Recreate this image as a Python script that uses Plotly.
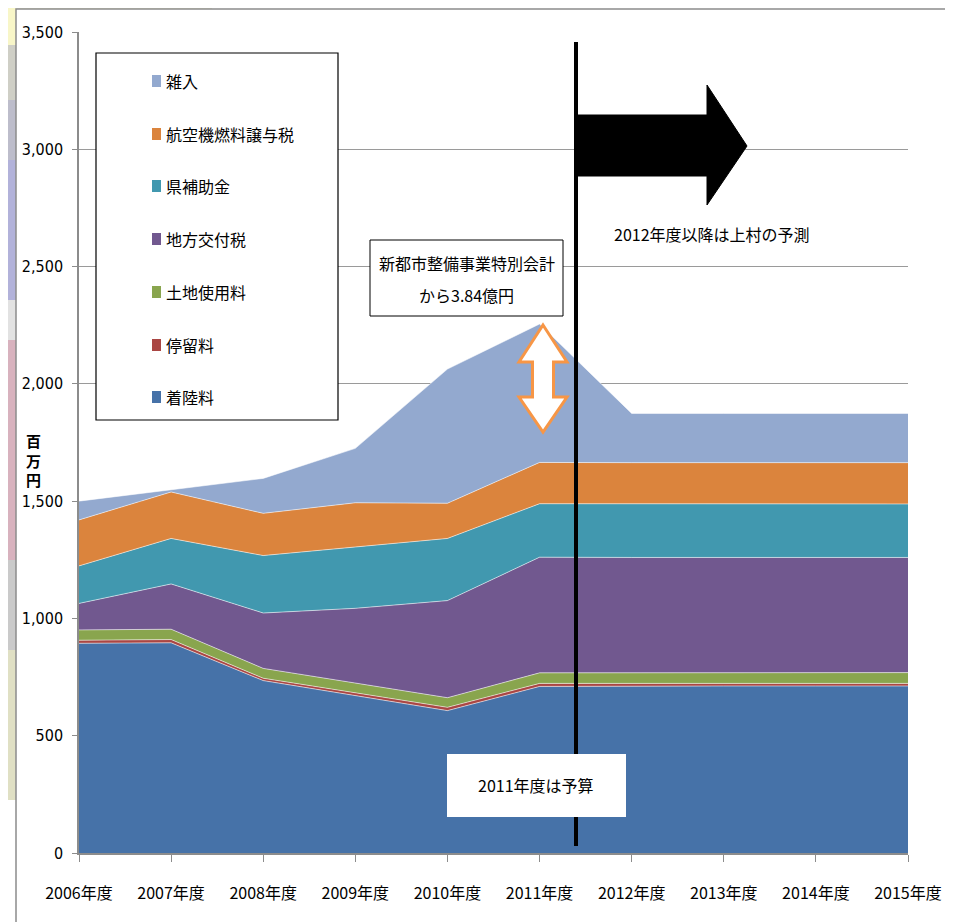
import plotly.graph_objects as go

# ---------------- data (百万円) ----------------
years = ["2006年度", "2007年度", "2008年度", "2009年度", "2010年度",
         "2011年度", "2012年度", "2013年度", "2014年度", "2015年度"]
landing = [894, 896, 735, 672, 607, 710, 712, 712, 712, 712]      # 着陸料
parking = [13, 14, 10, 11, 14, 13, 11, 11, 11, 11]                # 停留料
land_use = [44, 44, 42, 42, 41, 45, 46, 46, 46, 46]               # 土地使用料
local_tax = [113, 193, 236, 318, 414, 493, 491, 491, 491, 491]    # 地方交付税
pref_sub = [160, 194, 245, 263, 265, 228, 228, 228, 228, 228]     # 県補助金
fuel_tax = [196, 198, 180, 187, 150, 176, 176, 176, 176, 176]     # 航空機燃料譲与税
misc = [80, 11, 149, 232, 572, 590, 210, 210, 210, 210]           # 雑入

series = [
    ("着陸料", landing, "#4672A8"),
    ("停留料", parking, "#AA4643"),
    ("土地使用料", land_use, "#89A54E"),
    ("地方交付税", local_tax, "#71588F"),
    ("県補助金", pref_sub, "#4198AF"),
    ("航空機燃料譲与税", fuel_tax, "#DB843D"),
    ("雑入", misc, "#93A9CF"),
]

OFF = 8                      # page body margin
W, H = 953 - OFF, 922 - OFF
L, R, T, B = 79 - OFF, 45, 32 - OFF, 69
PW, PH = W - L - R, H - T - B
YMAX = 3500
NX = len(years) - 1
X0, Y0 = L + OFF, T + OFF    # screen pixel of plot top-left

FONT = "Liberation Sans Narrow, DejaVu Sans Condensed, Noto Sans CJK JP, sans-serif"
CJK = "Liberation Sans Narrow, Noto Sans CJK JP, sans-serif"

def px(xp):   # screen pixel -> paper x
    return (xp - X0) / PW

def py(yp):   # screen pixel -> paper y
    return (Y0 + PH - yp) / PH

def dx(xp):   # screen pixel -> data x
    return px(xp) * NX

def dy(yp):   # screen pixel -> data y
    return py(yp) * YMAX

fig = go.Figure()
xs = list(range(len(years)))
for name, vals, col in series:
    fig.add_trace(go.Scatter(
        x=xs, y=vals, name=name, stackgroup="one", mode="lines",
        line=dict(color="rgba(255,255,255,0.55)", width=1),
        fillcolor=col, showlegend=False, hoverinfo="skip"))

shapes = []
annotations = []

# outer frame + pixelated background strips
strip = [(0, 45, "#F8F6C8"), (45, 100, "#CFCFC6"), (100, 160, "#BDBDCB"),
         (160, 300, "#B2B2DA"), (300, 340, "#E2E2E2"), (340, 560, "#D8B2BE"),
         (560, 650, "#CACACA"), (650, 800, "#E0E0C4")]
for y0, y1, c in strip:
    shapes.append(dict(type="rect", xref="paper", yref="paper",
                       x0=px(0), x1=px(16), y0=py(y1), y1=py(y0),
                       fillcolor=c, line=dict(width=0), layer="below"))
shapes.append(dict(type="rect", xref="paper", yref="paper",
                   x0=px(16), x1=px(212), y0=py(9), y1=py(0),
                   fillcolor="#EAE8D2", line=dict(width=0), layer="below"))
shapes.append(dict(type="rect", xref="paper", yref="paper",
                   x0=px(16), x1=px(947), y0=py(940), y1=py(9),
                   line=dict(color="#8C8C8C", width=1.5), layer="below"))

# legend box
shapes.append(dict(type="rect", xref="paper", yref="paper",
                   x0=px(96), x1=px(338), y0=py(420), y1=py(53),
                   fillcolor="white", line=dict(color="black", width=1.2), layer="above"))
leg_y = [81, 134, 186, 239, 292, 345, 397]
for (name, vals, col), yy in zip(reversed(series), leg_y):
    shapes.append(dict(type="rect", xref="paper", yref="paper",
                       x0=px(152), x1=px(161), y0=py(yy + 6), y1=py(yy - 6),
                       fillcolor=col, line=dict(width=0), layer="above"))
    annotations.append(dict(xref="paper", yref="paper", x=px(164), y=py(yy),
                            text=name, showarrow=False, xanchor="left", yanchor="middle",
                            font=dict(family=CJK, size=16, color="black")))

# vertical divider line
shapes.append(dict(type="line", xref="x", yref="y", x0=dx(576), x1=dx(576),
                   y0=dy(42), y1=dy(846), line=dict(color="black", width=4), layer="above"))

# block arrow
pts = [(578, 115), (707, 115), (707, 85), (747, 146), (707, 205), (707, 176), (578, 176)]
path = "M " + " L ".join(f"{dx(a):.4f},{dy(b):.2f}" for a, b in pts) + " Z"
shapes.append(dict(type="path", xref="x", yref="y", path=path,
                   fillcolor="black", line=dict(color="black", width=1), layer="above"))

# double arrow (orange outline)
cx = 543
pts2 = [(cx, 325), (cx + 24, 362), (cx + 10.5, 362), (cx + 10.5, 397), (cx + 24, 397),
        (cx, 432), (cx - 24, 397), (cx - 10.5, 397), (cx - 10.5, 362), (cx - 24, 362)]
path2 = "M " + " L ".join(f"{dx(a):.4f},{dy(b):.2f}" for a, b in pts2) + " Z"
shapes.append(dict(type="path", xref="x", yref="y", path=path2,
                   fillcolor="white", line=dict(color="#F79646", width=3), layer="above"))

# text box: special account
shapes.append(dict(type="rect", xref="paper", yref="paper",
                   x0=px(370), x1=px(563), y0=py(316), y1=py(240),
                   fillcolor="white", line=dict(color="black", width=1), layer="above"))
for line_txt, yy in zip(["新都市整備事業特別会計", "から3.84億円"], [263, 295]):
    annotations.append(dict(xref="paper", yref="paper", x=px(466.5), y=py(yy),
                            text=line_txt, showarrow=False, borderpad=0,
                            xanchor="center", yanchor="middle",
                            font=dict(family=CJK, size=16, color="black")))

# white box: 2011 budget
shapes.append(dict(type="rect", xref="paper", yref="paper",
                   x0=px(447), x1=px(626), y0=py(817), y1=py(754),
                   fillcolor="white", line=dict(width=0), layer="above"))
annotations.append(dict(xref="paper", yref="paper", x=px(536), y=py(785),
                        text="2011年度は予算", showarrow=False,
                        xanchor="center", yanchor="middle",
                        font=dict(family=CJK, size=16, color="black")))

annotations.append(dict(xref="paper", yref="paper", x=px(712), y=py(234),
                        text="2012年度以降は上村の予測", showarrow=False,
                        xanchor="center", yanchor="middle",
                        font=dict(family=CJK, size=16, color="black")))

# y axis title (stacked vertical characters)
for ch, yy in zip("百万円", [441, 460, 479]):
    annotations.append(dict(xref="paper", yref="paper", x=px(33), y=py(yy),
                            text=f"<b>{ch}</b>", showarrow=False, borderpad=0,
                            xanchor="center", yanchor="middle",
                            font=dict(family="Noto Sans CJK JP", size=15, color="black")))

fig.update_layout(
    width=W, height=H,
    margin=dict(l=L, r=R, t=T, b=B),
    paper_bgcolor="white", plot_bgcolor="white",
    showlegend=False,
    shapes=shapes, annotations=annotations,
    xaxis=dict(range=[0, NX], tickvals=xs, ticktext=years,
               showgrid=False, zeroline=False,
               showline=True, linecolor="#8C8C8C", linewidth=1.5,
               ticks="outside", ticklen=7, tickcolor="#8C8C8C",
               ticklabelstandoff=18,
               tickfont=dict(family=CJK, size=16, color="black")),
    yaxis=dict(range=[0, YMAX], tickvals=list(range(0, 3501, 500)),
               tickformat=",d",
               showgrid=True, gridcolor="#9A9A9A", gridwidth=1,
               zeroline=False,
               showline=True, linecolor="#8C8C8C", linewidth=1.5,
               ticks="outside", ticklen=5, tickcolor="#8C8C8C",
               ticklabelstandoff=6,
               tickfont=dict(family=FONT, size=16, color="black")),
)

fig.write_html("out.html")
